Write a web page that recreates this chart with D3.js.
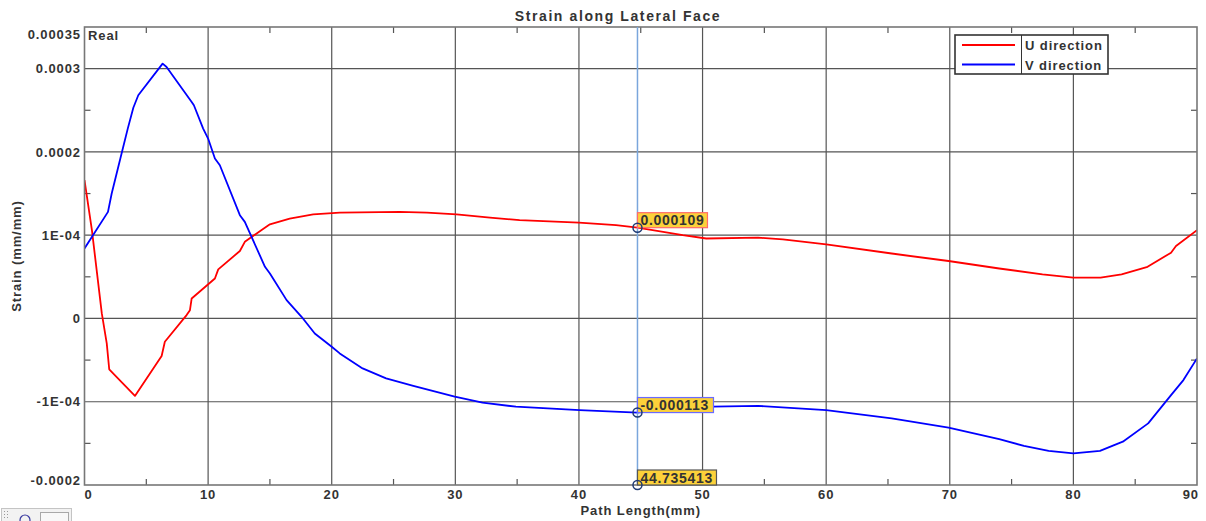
<!DOCTYPE html>
<html><head><meta charset="utf-8">
<script src="https://cdn.jsdelivr.net/npm/d3@7"></script>
<style>
html,body{margin:0;padding:0;background:#fff;}
svg text{font-family:"Liberation Sans",Arial,sans-serif;font-weight:bold;fill:#333;letter-spacing:0.9px;}
</style></head>
<body>
<svg id="chart" width="1206" height="521"></svg>
<script>
// ---- data (strain values in units of 1e-4 mm/mm) ----
const title = "Strain along Lateral Face";
const xLabel = "Path Length(mm)";
const yLabel = "Strain (mm/mm)";
const seriesNames = ["U direction", "V direction"];
const uX = [0,0.6,1.4,1.8,2.0,4.08,6.24,6.5,8.26,8.53,8.67,10.55,10.82,12.57,12.97,14.3,15.0,16.6,18.5,20.65,25.5,27.7,30.1,32.8,35.2,40.0,43.0,44.735,48.4,50.3,54.5,56.5,60.0,65.3,69.9,74.0,77.5,80.0,82.2,83.9,86.0,87.9,88.3,90];
const uVals = [1.66,1.06,0.06,-0.30,-0.61,-0.93,-0.45,-0.28,0.04,0.10,0.24,0.48,0.59,0.81,0.92,1.06,1.13,1.20,1.25,1.27,1.28,1.27,1.25,1.21,1.18,1.15,1.12,1.09,1.00,0.96,0.97,0.95,0.89,0.78,0.69,0.60,0.53,0.49,0.49,0.53,0.62,0.79,0.87,1.06];
const vX = [0,1.9,2.2,3.0,3.5,3.95,4.35,6.32,6.64,8.67,8.85,9.6,10.0,10.55,10.95,12.57,12.97,14.6,15.0,16.35,17.56,18.63,20.0,20.65,22.5,24.4,26.6,29.95,32.2,34.9,40.05,44.735,48.0,50.8,54.5,60.0,65.3,69.9,74.0,76.0,78.0,80.0,82.15,84.0,86.05,87.9,88.9,90];
const vVals = [0.84,1.28,1.50,1.98,2.28,2.53,2.68,3.06,3.02,2.60,2.56,2.28,2.16,1.92,1.84,1.24,1.16,0.62,0.54,0.22,0.02,-0.18,-0.34,-0.42,-0.60,-0.72,-0.81,-0.94,-1.01,-1.06,-1.10,-1.13,-1.08,-1.06,-1.05,-1.10,-1.20,-1.31,-1.45,-1.53,-1.59,-1.62,-1.59,-1.48,-1.26,-0.92,-0.74,-0.48];
const xTicks = [0,10,20,30,40,50,60,70,80,90];
const xMinorTicks = [5,15,25,35,45,55,65,75,85];
const yTicks = [-0.0002,-0.0001,0,0.0001,0.0002,0.0003,0.00035];
const yTickLabels = ["-0.0002","-1E-04","0","1E-04","0.0002","0.0003","0.00035"];
const yGrid = [-0.0001,0,0.0001,0.0002,0.0003];
const yMinorTicks = [-0.00015,-0.00005,0.00005,0.00015,0.00025];
const cursorX = 44.735413;
const cursorLabels = ["0.000109","-0.000113","44.735413"];
const cursorY = [0.000109,-0.000113,-0.0002];

// ---- layout ----
const svg = d3.select("#chart");
const L = 84.5, R = 1197, T = 27, B = 485;
const x = d3.scaleLinear().domain([0,90]).range([L,R]);
const y = d3.scaleLinear().domain([-0.0002,0.00035]).range([B,T]);
const gridColor = "#555";

// grid
const g = svg.append("g");
g.selectAll("line.vg").data(xTicks.slice(1,-1)).enter().append("line")
  .attr("x1",d=>x(d)).attr("x2",d=>x(d)).attr("y1",T).attr("y2",B)
  .attr("stroke",gridColor).attr("stroke-width",1.2);
g.selectAll("line.hg").data(yGrid).enter().append("line")
  .attr("x1",L).attr("x2",R).attr("y1",d=>y(d)).attr("y2",d=>y(d))
  .attr("stroke",gridColor).attr("stroke-width",1.2);

// minor ticks
const tk = 6;
xMinorTicks.forEach(v=>{
  g.append("line").attr("x1",x(v)).attr("x2",x(v)).attr("y1",B).attr("y2",B-tk).attr("stroke",gridColor).attr("stroke-width",1.2);
  g.append("line").attr("x1",x(v)).attr("x2",x(v)).attr("y1",T).attr("y2",T+tk).attr("stroke",gridColor).attr("stroke-width",1.2);
});
yMinorTicks.forEach(v=>{
  g.append("line").attr("x1",L).attr("x2",L+tk).attr("y1",y(v)).attr("y2",y(v)).attr("stroke",gridColor).attr("stroke-width",1.2);
  g.append("line").attr("x1",R).attr("x2",R-tk).attr("y1",y(v)).attr("y2",y(v)).attr("stroke",gridColor).attr("stroke-width",1.2);
});

// clip
svg.append("clipPath").attr("id","clip").append("rect").attr("x",L).attr("y",T).attr("width",R-L).attr("height",B-T);

// lines
const line = d3.line().x(d=>x(d[0])).y(d=>y(d[1]*1e-4));
const uData = uX.map((v,i)=>[v,uVals[i]]);
const vData = vX.map((v,i)=>[v,vVals[i]]);
const plot = svg.append("g").attr("clip-path","url(#clip)");
plot.append("path").datum(uData).attr("d",line).attr("fill","none").attr("stroke","#ff0000").attr("stroke-width",1.8).attr("stroke-linejoin","round");
plot.append("path").datum(vData).attr("d",line).attr("fill","none").attr("stroke","#0000ff").attr("stroke-width",1.8).attr("stroke-linejoin","round");

// axis box
svg.append("rect").attr("x",L).attr("y",T).attr("width",R-L).attr("height",B-T)
  .attr("fill","none").attr("stroke","#777").attr("stroke-width",1.6);

// x tick labels
xTicks.forEach((v,i)=>{
  let anchor="middle", px=x(v);
  if(i===0){anchor="start"; px=x(v);} 
  if(i===xTicks.length-1){anchor="end"; px=x(v)+2;}
  svg.append("text").attr("x",px).attr("y",499).attr("text-anchor",anchor).attr("font-size",13).text(v);
});
// y tick labels
yTicks.forEach((v,i)=>{
  let py = y(v)+4.6;
  if(py-9.5 < T+2) py = T+2+9.5;
  if(py > B) py = B;
  svg.append("text").attr("x",81).attr("y",py).attr("text-anchor","end").attr("font-size",13).text(yTickLabels[i]);
});

// titles
svg.append("text").attr("x",618).attr("y",21).attr("text-anchor","middle").attr("font-size",14).style("letter-spacing","1.6px").text(title);
svg.append("text").attr("x",x(45)).attr("y",514.5).attr("text-anchor","middle").attr("font-size",13).text(xLabel);
svg.append("text").attr("transform",`translate(21,${(T+B)/2}) rotate(-90)`).attr("text-anchor","middle").attr("font-size",13).text(yLabel);
svg.append("text").attr("x",88).attr("y",40).attr("font-size",13).text("Real");

// legend
const lg = svg.append("g");
lg.append("rect").attr("x",955).attr("y",35).attr("width",153).attr("height",39).attr("fill","#fff").attr("stroke","#333").attr("stroke-width",1.6);
lg.append("line").attr("x1",1021.5).attr("x2",1021.5).attr("y1",35).attr("y2",74).attr("stroke","#333").attr("stroke-width",1);
[["#ff0000",45],["#0000ff",64.5]].forEach((c,i)=>{
  lg.append("line").attr("x1",962).attr("x2",1015).attr("y1",c[1]).attr("y2",c[1]).attr("stroke",c[0]).attr("stroke-width",1.8);
  lg.append("text").attr("x",1025).attr("y",c[1]+5).attr("font-size",13).text(seriesNames[i]);
});

// data cursor
svg.append("line").attr("x1",x(cursorX)).attr("x2",x(cursorX)).attr("y1",T).attr("y2",B)
  .attr("stroke","#7aa6dc").attr("stroke-width",1.5);
const borders = ["#ff6a6a","#6a6aff","#555"];
const widths = [70,76,79];
cursorY.forEach((v,i)=>{
  const cx = x(cursorX), cy = y(v);
  svg.append("rect").attr("x",cx).attr("y",cy-15).attr("width",widths[i]).attr("height",15)
    .attr("fill","#fcd13a").attr("stroke",borders[i]).attr("stroke-width",1.2);
  svg.append("text").attr("x",cx+3).attr("y",cy-2.5).attr("font-size",14).attr("fill","#333").style("letter-spacing","0.7px").text(cursorLabels[i]);
  svg.append("circle").attr("cx",cx).attr("cy",cy).attr("r",4.5).attr("fill","none").attr("stroke","#1f3a73").attr("stroke-width",1.5);
});

// toolbar widget at bottom-left
const tb = svg.append("g");
tb.append("rect").attr("x",1.5).attr("y",508.5).attr("width",70).attr("height",14).attr("fill","#f2f2f2").attr("stroke","#c4c4c4");
for(let r=0;r<3;r++)for(let c=0;c<2;c++) tb.append("rect").attr("x",4+c*3).attr("y",511+r*3).attr("width",1).attr("height",1).attr("fill","#999");
tb.append("circle").attr("cx",25).attr("cy",520).attr("r",5).attr("fill","none").attr("stroke","#3a3aa0").attr("stroke-width",1.2);
tb.append("rect").attr("x",40.5).attr("y",512.5).attr("width",28).attr("height",10).attr("fill","#f8f8f8").attr("stroke","#a8a8a8");
</script>
</body></html>
